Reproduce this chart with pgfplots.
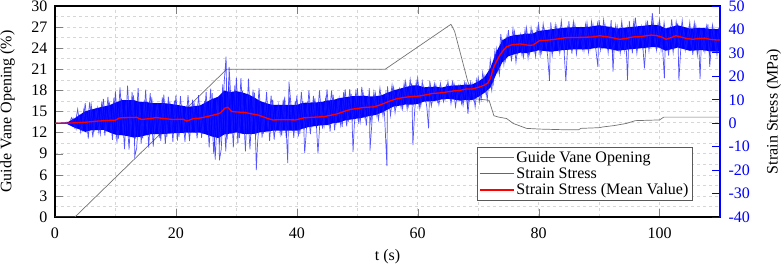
\documentclass[border=0pt]{standalone}
\usepackage{fontspec}
\setmainfont{Liberation Serif}
\usepackage{pgfplots}
\pgfplotsset{compat=1.18}
\definecolor{gvo}{rgb}{0.45,0.45,0.45}
\definecolor{sslight}{rgb}{0.1,0.1,1.0}
\definecolor{sslegend}{rgb}{0.32,0.32,1.0}
\begin{document}
\begin{tikzpicture}
\pgfplotsset{
  base/.style={
    scale only axis, width=665pt, height=211pt,
    xmin=0, xmax=110,
    /pgf/number format/assume math mode=true,
    tick label style={font=\fontsize{16}{19}\selectfont},
    label style={font=\fontsize{16}{19}\selectfont, inner sep=0pt},
    major tick length=8pt, minor tick length=0pt,
    tick align=inside,
  }
}
\begin{axis}[base, name=main,
  ymin=0, ymax=30, ytick={0,3,...,30},
  xtick={0,20,...,100}, minor x tick num=1, minor y tick num=1,
  grid=both, grid style={dashed, black!16, line width=0.5pt},
  axis line style={line width=1.1pt},
  ytick pos=left, xtick pos=both,
  xticklabel style={yshift=-7pt},
  yticklabel style={xshift=-4pt},
  xlabel={t (s)}, ylabel={Guide Vane Opening (\%)},
  xlabel style={at={(axis description cs:0.5,-0.188)}, anchor=center},
  ylabel style={at={(axis description cs:-0.0714,0.5)}, rotate=0, anchor=center},
]
\addplot[gvo, line width=0.7pt] coordinates {
(0,0) (3.3,0) (28.4,21) (54.6,21) (65.5,27.4) (66.1,26.4) (68.3,19.2) (69.6,16.8)
(71.8,16.6) (72.6,14.4) (73.4,14.2) (74.7,14.0) (75.8,13.3) (78,12.6) (80.2,12.5)
(84.5,12.4) (86.6,12.4) (87,12.6) (90,12.7) (90.6,12.8) (92.5,13.0) (94.5,13.3)
(96,13.7) (100,13.8) (100.7,14.2) (110,14.2)
};
\end{axis}
\begin{axis}[base,
  ymin=-40, ymax=50, ytick={-40,-30,...,50},
  axis y line*=right, axis x line=none,
  y axis line style={blue, line width=1.4pt},
  ytick style={blue, line width=0.8pt},
  yticklabel style={blue, xshift=5pt},
  ylabel={Strain Stress (MPa)},
  ylabel style={at={(axis description cs:1.081,0.5)}, anchor=center},
  legend style={at={(axis description cs:0.958,0.081)}, anchor=south east,
    draw=black!65, fill=white, font=\fontsize{16}{19}\selectfont,
    inner sep=1.5pt, row sep=0pt, cells={anchor=west}},
]
% dense core of the strain signal
\addplot[fill=blue, draw=none, forget plot] coordinates {
(0,0.1) (2,0.3) (3,1.7) (4,3.4) (5,5.1) (6,5.8) (7,6.5) (8,7.1) (9,7.7) (10,8.8)
(11,9.8) (12,9.9) (13,9.9) (14,9.1) (15,9.1) (16,8.6) (18,8.6) (20,7.9) (22,7.0)
(24,7.6) (25,9.0) (26,10.3) (27,11.3) (28,13.9) (29,13.3) (30,13.7) (31,13.1)
(32,12.3) (33,10.9) (34,9.4) (35,8.5) (36,7.8) (40,7.8) (41,8.7) (42,8.8) (44,9.0)
(45,9.7) (46,9.9) (47,10.7) (48,11.1) (49,11.5) (50,11.6) (51,11.8) (52,11.4)
(53,11.5) (54,11.9) (55,13.0) (56,14.0) (57,14.7) (58,15.4) (59,16.1) (60,16.2)
(61,15.3) (62,15.5) (63,15.6) (64,15.2) (65,15.9) (66,16.1) (67,16.2) (68,16.5)
(69,16.5) (70,17.8) (71,19.5) (72,23.4) (73,30.4) (74,35.4) (75,36.9) (76,37.6)
(77,37.8) (78,38.2) (79,38.2) (80,39.4) (82,40.0) (84,40.7) (86,41.0) (88,41.0)
(90,41.8) (92,41.0) (93,40.4) (95,41.0) (97,41.5) (99,42.0) (100,41.7) (101,40.4)
(103,41.8) (105,40.4) (107,40.7) (109,40.0) (110,40.0)
(110,30.5) (109,30.5) (107,31.2) (105,30.9) (103,32.3) (101,30.9) (100,32.2)
(99,32.5) (97,32.0) (95,31.5) (93,30.9) (92,31.5) (90,32.3) (88,31.5) (86,31.5)
(84,31.2) (82,30.5) (80,31.1) (79,30.5) (78,29.9) (77,30.1) (76,29.4) (75,28.6)
(74,26.0) (73,21.0) (72,15.1) (71,12.9) (70,11.2) (69,9.9) (68,9.9) (67,9.6)
(66,10.1) (65,10.4) (64,10.2) (63,9.6) (62,9.4) (61,9.2) (60,8.2) (59,7.9)
(58,8.0) (57,7.5) (56,7.1) (55,5.8) (54,4.5) (53,3.5) (52,3.1) (51,2.4) (50,2.0)
(49,1.6) (48,1.2) (47,0.3) (46,0.0) (45,-0.8) (44,-0.9) (42,-1.6) (41,-2.3)
(40,-3.2) (36,-3.2) (35,-3.6) (34,-3.8) (33,-4.5) (32,-4.7) (31,-4.5) (30,-3.9)
(29,-4.4) (28,-4.8) (27,-6.3) (26,-5.7) (25,-4.8) (24,-4.0) (22,-4.0) (20,-4.2)
(18,-4.6) (16,-4.6) (15,-5.2) (14,-5.8) (13,-6.1) (12,-5.5) (11,-5.1) (10,-4.9)
(9,-3.9) (8,-2.8) (7,-2.9) (6,-3.0) (5,-3.7) (4,-2.6) (3,-1.6) (2,-0.3) (0,-0.1)
} -- cycle;
% raw strain signal, part A
\addplot[sslight, opacity=0.75, line width=0.7pt, forget plot] coordinates {
(0,0) (1.5,0.1) (2,0.5) (2.5,-0.3) (3,2.1) (3.5,-2.5) (4,3.2) (4.5,-2.9) (5,8.6)
(5.5,-6.6) (6,7.7) (6.5,-2.7) (7,6.5) (7.5,-4.6) (8,10.4) (8.5,-3.5) (9,8.9)
(9.5,-7.1) (10,13.6) (10.5,-6.6) (11,10.5) (11.5,-11.0) (12,16.0) (12.5,-5.5)
(13,11.9) (13.2,-14.0) (13.5,-10.7) (14,8.4) (14.5,-6.5) (15,14.3) (15.5,-10.4)
(16,11.0) (16.5,-4.0) (17,8.7) (17.5,-7.5) (18,12.2) (18.5,-5.8) (19,9.0)
(19.5,-7.9) (20,11.9) (20.5,-5.8) (21,7.8) (21.5,-8.0) (22,12.0) (22.5,-4.0)
(23,9.0) (23.5,-6.5) (24,7.1) (24.5,-4.5) (25,13.4) (25.5,-10.3) (26,12.8)
(26.5,-15.5) (27,11.3) (27.2,-15.8) (27.5,-11.1) (28,18.0) (28.3,28.4) (28.5,-6.9)
(28.8,24.0) (29,14.8) (29.5,-10.3) (30,19.4) (30.5,-6.3) (31,13.8) (31.5,-12.0)
(32,19.0) (32.5,-4.7) (33,13.0) (33.3,-20.0) (33.5,-8.8) (34,8.8) (34.5,-4.4)
(35,13.4) (35.5,-7.5) (36,10.1) (36.5,-2.8) (37,7.8) (37.5,-5.3) (38,11.3)
(38.5,-17.0) (38.7,17.7) (39,8.9) (39.5,-6.2) (40,11.8) (40.5,-4.5) (41,9.3)
(41.3,-12.8) (41.5,-6.0) (42,14.0) (42.5,-1.6) (43,10.6) (43.5,-13.0) (44,8.4)
(44.5,-1.3) (45,14.4) (45.5,-3.6) (46,12.2) (46.5,0.3) (47,10.7) (47.5,-1.5)
(48,14.4) (48.5,0.5) (49,12.5) (49.3,-12.2) (49.5,-1.2) (50,15.0) (50.5,0.8)
(51,12.2) (51.5,-1.0) (52,15.0) (52.1,-11.7) (52.5,3.1) (53,12.7) (53.5,1.5)
(54,11.6) (54.5,4.2) (54.9,-18.3) (55,15.7) (55.5,3.3) (56,15.3) (56.5,7.4)
(57,14.7) (57.5,6.1) (58,17.8) (58.5,7.4) (59,17.0) (59.2,-9.3) (59.5,5.6)
(60,19.2) (60.5,7.3) (61,15.6) (61.5,7.0) (61.8,-2.2) (62,18.0) (62.5,9.4)
(63,16.4) (63.5,7.9) (64,15.0) (64.5,10.0) (65,17.8) (65.5,8.3) (66,17.0)
(66.5,10.4) (67,16.2) (67.5,7.6) (68,17.5) (68.3,4.0) (68.5,9.0) (69,16.8)
(69.5,6.9) (70,19.5) (70.5,10.2) (71,19.8) (71.5,10.0) (72,27.0) (72.5,17.0)
(73,31.6) (73.5,20.8) (74,35.0) (74.5,26.9) (75,39.7) (75.5,26.4) (76,39.1)
(76.5,29.9) (77,37.8) (77.5,28.3) (78,40.7) (78.5,29.6) (79,39.0) (79.5,28.5)
(80,42.2) (80.5,30.2) (81,39.8) (81.5,28.3) (81.8,18.1) (82,43.0) (82.5,31.6)
(83,41.2) (83.5,29.9) (84,40.0) (84.5,18.0) (85,43.5) (85.5,29.7) (86,42.1)
(86.5,33.0) (87,40.6) (87.5,30.9) (88,42.9) (88.5,31.9) (89,41.9) (89.5,30.7)
(89.8,24.0) (90,44.1) (90.5,32.4) (91,41.5) (91.5,30.0) (92,44.0) (92.3,22.0)
(92.5,32.6) (93,41.2) (93.5,29.9) (94,39.8) (94.5,31.8) (94.7,18.4) (95,43.6)
(95.5,29.8) (96,45.0) (96.5,33.3) (97,41.1) (97.5,23.4) (98,43.7) (98.5,32.7)
(98.8,47.0) (99,42.4) (99.5,31.2) (100,44.0) (100.5,32.3) (100.8,19.1) (101,40.4)
(101.5,28.9) (102,44.3) (102.5,32.9) (103,42.6) (103.2,18.3) (103.5,31.3)
(104,40.2) (104.5,32.2) (105,43.0) (105.5,29.2) (106,41.7) (106.5,32.6)
(106.7,18.9) (107,40.3) (107.5,30.6) (108,42.2) (108.3,24.0) (108.5,31.2)
(109,40.4) (109.5,29.2) (110,42.3)
};
% raw strain signal, part B
\addplot[sslight, opacity=0.75, line width=0.7pt, forget plot] coordinates {
(2.25,-0.5) (2.75,2.4) (3.25,-1.8) (3.75,6.0) (4.25,-3.7) (4.75,5.6) (5.25,-2.9)
(5.75,9.1) (6.25,-6.0) (6.75,5.4) (7.25,-3.9) (7.75,9.3) (8.25,-5.3) (8.75,11.2)
(9.25,-3.9) (9.75,10.9) (10.25,-8.3) (10.75,15.3) (11.25,-4.4) (11.75,9.2)
(12.25,-11.3) (12.75,13.3) (13.25,-6.8) (13.75,15.0) (14.25,-8.6) (14.75,9.7)
(15.25,-4.0) (15.75,12.8) (16.25,-10.0) (16.75,7.6) (17.25,-6.3) (17.75,11.0)
(18.25,-8.8) (18.75,11.3) (19.25,-4.2) (19.75,9.6) (20.25,-7.4) (20.75,11.5)
(21.25,-3.3) (21.75,6.5) (22.25,-7.6) (22.75,10.0) (23.25,-4.0) (23.75,12.0)
(24.25,-6.2) (24.75,9.5) (25.25,-3.4) (25.75,14.7) (26.25,-13.0) (26.75,10.0)
(27.25,-9.2) (27.75,16.6) (28.25,-12.0) (28.75,17.8) (29.25,-4.4) (29.75,16.1)
(30.25,-8.6) (30.75,19.2) (31.25,-3.7) (31.75,11.6) (32.25,-11.2) (32.75,14.3)
(33.25,-5.2) (33.75,15.0) (34.25,-6.1) (34.75,9.1) (35.25,-2.6) (35.75,11.8)
(36.25,-7.0) (36.75,6.6) (37.25,-4.5) (37.75,10.1) (38.25,-6.2) (38.75,11.3)
(39.25,-3.2) (39.75,9.5) (40.25,-5.7) (40.75,13.4) (41.25,-1.9) (41.75,8.3)
(42.25,-4.6) (42.75,11.7) (43.25,-2.0) (43.75,14.0) (44.25,-2.3) (44.75,10.3)
(45.25,0.0) (45.75,13.9) (46.25,-3.0) (46.75,9.6) (47.25,-0.8) (47.75,13.3)
(48.25,-1.3) (48.75,14.5) (49.25,1.6) (49.75,13.1) (50.25,-0.3) (50.75,15.5)
(51.25,2.8) (51.75,11.0) (52.25,0.3) (52.75,13.4) (53.25,3.2) (53.75,15.0)
(54.25,3.2) (54.75,13.3) (55.25,6.5) (55.75,16.3) (56.25,4.5) (56.75,13.9)
(57.25,6.7) (57.75,17.0) (58.25,6.0) (58.75,18.7) (59.25,7.9) (59.75,17.5)
(60.25,6.4) (60.75,17.7) (61.25,9.5) (61.75,15.2) (62.25,7.3) (62.75,16.9)
(63.25,9.3) (63.75,17.0) (64.25,9.2) (64.75,16.1) (65.25,10.9) (65.75,17.6)
(66.25,7.0) (66.75,15.9) (67.25,8.4) (67.75,17.2) (68.25,6.9) (68.75,17.5)
(69.25,9.9) (69.75,18.6) (70.25,9.1) (70.75,21.7) (71.25,13.2) (71.75,22.0)
(72.25,13.9) (72.75,30.5) (73.25,22.1) (73.75,38.0) (74.25,25.1) (74.75,37.0)
(75.25,29.4) (75.75,40.2) (76.25,26.0) (76.75,37.0) (77.25,29.0) (77.75,39.9)
(78.25,27.7) (78.75,40.7) (79.25,30.5) (79.75,40.6) (80.25,29.0) (80.75,42.4)
(81.25,31.8) (81.75,39.3) (82.25,28.9) (82.75,41.9) (83.25,31.7) (83.75,43.7)
(84.25,31.0) (84.75,40.9) (85.25,33.3) (85.75,43.3) (86.25,29.5) (86.75,39.9)
(87.25,31.6) (87.75,42.1) (88.25,30.2) (88.75,43.4) (89.25,33.1) (89.75,42.6)
(90.25,31.3) (90.75,44.1) (91.25,33.5) (91.75,40.3) (92.25,29.8) (92.75,41.9)
(93.25,31.7) (93.75,43.5) (94.25,30.8) (94.75,41.0) (95.25,33.4) (95.75,43.6)
(96.25,29.8) (96.75,40.4) (97.25,32.1) (97.75,42.9) (98.25,31.0) (98.75,43.9)
(99.25,33.6) (99.75,42.5) (100.25,31.2) (100.75,43.0) (101.25,32.4) (101.75,40.6)
(102.25,30.1) (102.75,43.3) (103.25,33.1) (103.75,43.9) (104.25,31.2) (104.75,40.4)
(105.25,32.8) (105.75,42.9) (106.25,29.1) (106.75,39.6) (107.25,31.3) (107.75,41.4)
(108.25,29.5) (108.75,41.9) (109.25,31.6) (109.75,40.8)
};
% mean value
\addplot[red, line width=1.3pt, forget plot] coordinates {
(0,0) (2,0) (4,0.3) (5,0.4) (7,0.9) (9,1.2) (10,1.3) (10.6,2.2) (11,2.3) (12,2.4)
(13.5,2.5) (14.3,1.6) (15,1.8) (16,2.1) (16.8,2.4) (18,2.0) (19.5,1.6) (21.2,1.7)
(21.8,0.9) (22.9,2.0) (24,2.2) (25.6,3.1) (27,4.0) (27.4,4.5) (28.1,6.4) (28.6,6.8)
(29.2,5.0) (30,4.8) (31.4,4.6) (32.5,4.0) (33.6,3.5) (35,2.2) (36,1.4) (38,1.5)
(39.8,1.4) (41.2,2.3) (43,2.6) (44.5,2.8) (46,3.6) (46.7,4.0) (48,5.2) (48.9,5.9)
(50,6.3) (51,6.7) (52.8,7.0) (54,8.0) (55.5,9.6) (56.5,10.4) (57.7,11.0) (59,11.4)
(60.3,11.6) (61.5,12.2) (62.5,12.7) (64,13.0) (65,13.4) (66,13.8) (67,14.0)
(68,14.6) (69,14.6) (70,15.3) (71,16.2) (71.6,17.2) (72,19.0) (72.5,23.4)
(73,26.3) (73.6,29.1) (74.2,31.2) (74.7,32.6) (75.5,33.4) (76.9,33.8) (77.5,33.6)
(78.5,33.2) (79.1,33.4) (80.2,35.3) (81,35.3) (81.8,35.5) (83,35.9) (84.6,36.5)
(86.8,36.6) (88.9,36.8) (90.1,37.3) (91.5,36.8) (92.5,36.3) (93.4,35.8) (94.5,36.2)
(95.6,36.8) (97,37.0) (98.6,37.6) (99.5,37.4) (100.3,36.8) (101.1,35.8) (102,36.6)
(102.7,37.3) (103.5,36.8) (104.4,36.2) (105.5,35.8) (106.5,36.2) (107.5,36.3)
(108.5,35.7) (109.5,35.5) (110,35.5)
};
\addlegendimage{legend image code/.code={\draw[draw=gvo, line width=0.7pt] (0pt,0pt) -- (34pt,0pt);}}
\addlegendentry{Guide Vane Opening}
\addlegendimage{legend image code/.code={\draw[draw=sslegend, line width=1.5pt] (0pt,0pt) -- (34pt,0pt);}}
\addlegendentry{Strain Stress}
\addlegendimage{legend image code/.code={\draw[draw=red, line width=1.4pt] (0pt,0pt) -- (34pt,0pt);}}
\addlegendentry{Strain Stress (Mean Value)}
\end{axis}
\pgfresetboundingbox
\useasboundingbox ([xshift=-55pt,yshift=-47pt]main.south west) rectangle ([xshift=62pt,yshift=6pt]main.north east);
\end{tikzpicture}
\end{document}
